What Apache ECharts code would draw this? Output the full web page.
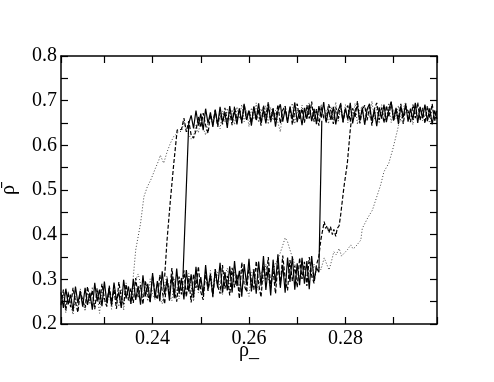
<!DOCTYPE html>
<html>
<head>
<meta charset="utf-8">
<script src="https://cdn.jsdelivr.net/npm/echarts@6/dist/echarts.min.js"></script>
<style>
  html, body { margin: 0; padding: 0; background: #fff; }
  #chart { width: 494px; height: 382px; }
</style>
</head>
<body>
<div id="chart"></div>
<script>
// sweep step of rho_ (the driving parameter)
const step = 0.0005;

// lower branch, increasing rho_, sampled from 0.221
const solidLower = [
  0.271, 0.236, 0.279, 0.244, 0.266, 0.228, 0.284, 0.247, 0.273, 0.239,
  0.281, 0.243, 0.270, 0.232, 0.292, 0.251, 0.277, 0.240, 0.295, 0.248,
  0.279, 0.241, 0.293, 0.253, 0.271, 0.236, 0.299, 0.257, 0.284, 0.245,
  0.301, 0.254, 0.285, 0.243, 0.309, 0.262, 0.290, 0.249, 0.314, 0.258,
  0.296, 0.251, 0.318, 0.266, 0.300, 0.252, 0.309, 0.258, 0.324, 0.268,
  0.302, 0.255, 0.321, 0.273, 0.311, 0.259, 0.328, 0.276, 0.305, 0.264,
  0.332, 0.278, 0.312, 0.263, 0.322, 0.282, 0.337, 0.270, 0.316, 0.275,
  0.329, 0.271, 0.341, 0.285, 0.319, 0.261, 0.334, 0.288, 0.346, 0.273,
  0.322, 0.268, 0.340, 0.286, 0.352, 0.276, 0.326, 0.264, 0.344, 0.291,
  0.356, 0.281, 0.332, 0.270, 0.349, 0.294, 0.351, 0.277, 0.336, 0.287,
  0.348, 0.290, 0.341, 0.278, 0.352, 0.297, 0.326
];
const dashedLower = [
  0.243, 0.277, 0.231, 0.270, 0.238, 0.281, 0.249, 0.226, 0.273, 0.254,
  0.236, 0.284, 0.252, 0.275, 0.233, 0.280, 0.245, 0.290, 0.257, 0.239,
  0.286, 0.249, 0.277, 0.234, 0.294, 0.258, 0.244, 0.289, 0.253, 0.280,
  0.247, 0.303, 0.260, 0.287, 0.244, 0.297, 0.265, 0.250, 0.309, 0.269,
  0.255, 0.310, 0.273, 0.245, 0.302, 0.264, 0.325, 0.279, 0.250, 0.306,
  0.266, 0.320, 0.261, 0.303, 0.248, 0.312, 0.281, 0.329, 0.272, 0.254,
  0.317, 0.274, 0.307, 0.260, 0.323, 0.285, 0.268, 0.332, 0.279, 0.308,
  0.264, 0.326, 0.282, 0.312, 0.257, 0.338, 0.287, 0.272, 0.328, 0.296,
  0.277, 0.341, 0.290, 0.260, 0.329, 0.299, 0.350, 0.282, 0.320, 0.268,
  0.334, 0.288, 0.353, 0.302, 0.275, 0.343, 0.296, 0.331, 0.282, 0.348,
  0.301, 0.339, 0.285, 0.350, 0.309, 0.291, 0.332
];
const dottedLower = [
  0.238, 0.266, 0.225, 0.274, 0.242, 0.221, 0.262, 0.234, 0.279, 0.248,
  0.229, 0.270, 0.244, 0.283, 0.236, 0.265, 0.224, 0.277, 0.250, 0.240,
  0.271, 0.233, 0.287, 0.252, 0.239, 0.279, 0.231, 0.292, 0.258, 0.246,
  0.281, 0.298, 0.312, 0.290, 0.259, 0.286, 0.251, 0.301, 0.268, 0.255,
  0.295, 0.260, 0.245, 0.289, 0.308, 0.265, 0.252, 0.301, 0.273, 0.256,
  0.305, 0.278, 0.261, 0.313, 0.284, 0.251, 0.303, 0.270, 0.297, 0.263,
  0.310, 0.280, 0.320, 0.272, 0.301, 0.316, 0.278, 0.265, 0.308, 0.325,
  0.288, 0.270, 0.317, 0.294, 0.277, 0.324, 0.300, 0.281, 0.262, 0.313,
  0.325, 0.288, 0.275, 0.318, 0.296, 0.334, 0.302, 0.281, 0.319, 0.336,
  0.344, 0.360, 0.376, 0.393, 0.384, 0.366, 0.349, 0.334, 0.320, 0.308,
  0.299, 0.329, 0.291, 0.322, 0.303, 0.334, 0.318
];

// jump from the lower to the upper branch, [rho_, rho]
const solidJumpUp = [[0.2745, 0.316], [0.2751, 0.655]];
const dashedJumpUp = [
  [0.2745, 0.352], [0.2749, 0.388], [0.2756, 0.429], [0.2759, 0.414],
  [0.2762, 0.420], [0.2766, 0.404], [0.2769, 0.418], [0.2773, 0.400],
  [0.2776, 0.412], [0.2780, 0.396], [0.2783, 0.414], [0.2787, 0.420],
  [0.2790, 0.443], [0.2797, 0.507], [0.2804, 0.560], [0.2810, 0.634],
  [0.2812, 0.652]
];
const dottedJumpUp = [
  [0.2745, 0.330], [0.2749, 0.321], [0.2756, 0.348], [0.2766, 0.321],
  [0.2771, 0.340], [0.2776, 0.362], [0.2781, 0.355], [0.2787, 0.369],
  [0.2792, 0.352], [0.2797, 0.358], [0.2804, 0.366], [0.2811, 0.377],
  [0.2816, 0.368], [0.2821, 0.373], [0.2832, 0.388], [0.2835, 0.414],
  [0.2846, 0.437], [0.2856, 0.455], [0.2873, 0.511], [0.2880, 0.541],
  [0.2890, 0.560], [0.2898, 0.590], [0.2908, 0.634], [0.2912, 0.655]
];

// upper branch, decreasing rho_ (stored from low to high rho_)
const solidUpperStart = 0.248;
const solidUpper = [
  0.667, 0.638, 0.678, 0.644, 0.671, 0.634, 0.682, 0.649, 0.674, 0.641,
  0.680, 0.646, 0.686, 0.652, 0.673, 0.639, 0.688, 0.655, 0.677, 0.647,
  0.683, 0.652, 0.691, 0.657, 0.678, 0.644, 0.687, 0.659, 0.694, 0.650,
  0.680, 0.649, 0.689, 0.656, 0.683, 0.642, 0.677, 0.692, 0.653, 0.681,
  0.650, 0.687, 0.658, 0.696, 0.652, 0.679, 0.645, 0.684, 0.659, 0.690,
  0.654, 0.681, 0.648, 0.688, 0.662, 0.697, 0.651, 0.680, 0.657, 0.686,
  0.647, 0.678, 0.691, 0.653, 0.683, 0.658, 0.695, 0.649, 0.677, 0.688,
  0.655, 0.684, 0.646, 0.681, 0.693, 0.654, 0.679, 0.643, 0.685, 0.660,
  0.691, 0.652, 0.680, 0.697, 0.656, 0.684, 0.648, 0.688, 0.663, 0.693,
  0.653, 0.682, 0.657, 0.695, 0.650, 0.686, 0.661, 0.691, 0.654, 0.683,
  0.647, 0.678, 0.659
];
const dashedUpperStart = 0.246;
const dashedUpper = [
  0.636, 0.661, 0.630, 0.654, 0.623, 0.616, 0.633, 0.664, 0.640, 0.672,
  0.645, 0.627, 0.668, 0.650, 0.679, 0.642, 0.673, 0.647, 0.684, 0.653,
  0.675, 0.645, 0.687, 0.656, 0.681, 0.649, 0.693, 0.658, 0.678, 0.651,
  0.686, 0.655, 0.680, 0.644, 0.690, 0.662, 0.697, 0.652, 0.682, 0.657,
  0.691, 0.649, 0.679, 0.688, 0.654, 0.684, 0.646, 0.676, 0.693, 0.658,
  0.682, 0.651, 0.690, 0.660, 0.698, 0.653, 0.681, 0.644, 0.687, 0.662,
  0.655, 0.692, 0.677, 0.648, 0.685, 0.659, 0.696, 0.651, 0.680, 0.689,
  0.653, 0.683, 0.662, 0.699, 0.649, 0.678, 0.690, 0.656, 0.686, 0.644,
  0.681, 0.695, 0.657, 0.684, 0.650, 0.689, 0.663, 0.698, 0.654, 0.682,
  0.659, 0.693, 0.648, 0.686, 0.677, 0.652, 0.691, 0.661, 0.696, 0.656,
  0.684, 0.649, 0.688, 0.662, 0.693, 0.654, 0.680
];
const dottedUpperStart = 0.246;
const dottedUpper = [
  0.631, 0.653, 0.636, 0.624, 0.614, 0.621, 0.645, 0.628, 0.657, 0.639,
  0.623, 0.651, 0.666, 0.643, 0.674, 0.649, 0.637, 0.677, 0.652, 0.683,
  0.655, 0.680, 0.646, 0.686, 0.660, 0.691, 0.653, 0.678, 0.642, 0.684,
  0.658, 0.695, 0.651, 0.682, 0.663, 0.689, 0.647, 0.685, 0.656, 0.678,
  0.651, 0.630, 0.675, 0.688, 0.654, 0.683, 0.694, 0.648, 0.679, 0.659,
  0.690, 0.652, 0.677, 0.696, 0.656, 0.684, 0.645, 0.680, 0.692, 0.658,
  0.678, 0.648, 0.687, 0.661, 0.697, 0.652, 0.682, 0.657, 0.691, 0.650,
  0.685, 0.660, 0.694, 0.647, 0.679, 0.688, 0.653, 0.683, 0.662, 0.699,
  0.657, 0.686, 0.649, 0.691, 0.664, 0.655, 0.695, 0.651, 0.681, 0.660,
  0.689, 0.653, 0.683, 0.697, 0.658, 0.678, 0.646, 0.692, 0.662, 0.686,
  0.655, 0.690, 0.664, 0.650, 0.685, 0.659, 0.679
];

// drop from the upper to the lower branch (bottom first)
const solidDrop = [[0.2463, 0.306], [0.2475, 0.649]];
const dashedDrop = [
  [0.2425, 0.306], [0.2430, 0.388], [0.2437, 0.478], [0.2444, 0.560], [0.2451, 0.634]
];
const dottedDrop = [
  [0.2360, 0.306], [0.2365, 0.366], [0.2375, 0.425], [0.2382, 0.485],
  [0.2389, 0.507], [0.2396, 0.522], [0.2406, 0.549], [0.2413, 0.567],
  [0.2416, 0.578], [0.2423, 0.560], [0.2430, 0.585], [0.2437, 0.605],
  [0.2444, 0.620], [0.2455, 0.631]
];

const yTicks = [0.2, 0.3, 0.4, 0.5, 0.6, 0.7, 0.8];

const onGrid = (x0, ys) => ys.map((y, i) => [+(x0 + i * step).toFixed(4), y]);

const font = 'Liberation Serif, Times New Roman, serif';

const trace = (data, type, color, width) => ({
  type: 'line',
  data: data,
  symbol: 'none',
  silent: true,
  lineStyle: { color: color, width: width, type: type },
  xAxisIndex: 0,
  yAxisIndex: 0
});

const baseX = {
  type: 'value',
  min: 0.221,
  max: 0.299,
  splitNumber: 4,
  axisLine: { onZero: false, lineStyle: { color: '#000', width: 1.5 } },
  axisTick: { inside: true, length: 7, lineStyle: { color: '#000', width: 1.2 } },
  minorTick: { show: true, splitNumber: 2, length: 7, lineStyle: { color: '#000', width: 1.2 } },
  splitLine: { show: false },
  minorSplitLine: { show: false }
};
const baseY = {
  type: 'value',
  min: yTicks[0],
  max: yTicks[yTicks.length - 1],
  interval: 0.1,
  axisLine: { onZero: false, lineStyle: { color: '#000', width: 1.5 } },
  axisTick: { inside: true, length: 7, lineStyle: { color: '#000', width: 1.2 } },
  minorTick: { show: true, splitNumber: 2, length: 7, lineStyle: { color: '#000', width: 1.2 } },
  splitLine: { show: false },
  minorSplitLine: { show: false }
};

const chart = echarts.init(document.getElementById('chart'));
chart.setOption({
  backgroundColor: '#fff',
  animation: false,
  grid: { left: 61, right: 57, top: 56, bottom: 58, containLabel: false, outerBoundsMode: 'none' },
  xAxis: [
    Object.assign({}, baseX, {
      position: 'bottom',
      name: 'ρ_',
      nameLocation: 'middle',
      nameGap: 17,
      nameMoveOverlap: false,
      nameTextStyle: { fontFamily: font, fontSize: 20, color: '#000' },
      axisLabel: {
        fontFamily: font, fontSize: 20, color: '#000', margin: 5,
        showMinLabel: false, showMaxLabel: false,
        formatter: v => v.toFixed(2)
      }
    }),
    Object.assign({}, baseX, { position: 'top', axisLabel: { show: false } })
  ],
  yAxis: [
    Object.assign({}, baseY, {
      position: 'left',
      name: 'ρ̄',
      nameLocation: 'middle',
      nameGap: 42,
      nameMoveOverlap: false,
      nameRotate: 90,
      nameTextStyle: { fontFamily: font, fontSize: 20, color: '#000' },
      axisLabel: {
        fontFamily: font, fontSize: 20, color: '#000', margin: 4,
        formatter: v => v.toFixed(1)
      }
    }),
    Object.assign({}, baseY, { position: 'right', axisLabel: { show: false } })
  ],
  series: [
    trace(onGrid(0.221, dottedLower).concat(dottedJumpUp), [1, 2], '#444', 1),
    trace(dottedDrop.concat(onGrid(dottedUpperStart, dottedUpper)), [1, 2], '#444', 1),
    trace(onGrid(0.221, dashedLower).concat(dashedJumpUp), [4, 2], '#000', 1.2),
    trace(dashedDrop.concat(onGrid(dashedUpperStart, dashedUpper)), [4, 2], '#000', 1.2),
    trace(onGrid(0.221, solidLower).concat(solidJumpUp), 'solid', '#000', 1.2),
    trace(solidDrop.concat(onGrid(solidUpperStart, solidUpper)), 'solid', '#000', 1.2)
  ]
});
</script>
</body>
</html>
